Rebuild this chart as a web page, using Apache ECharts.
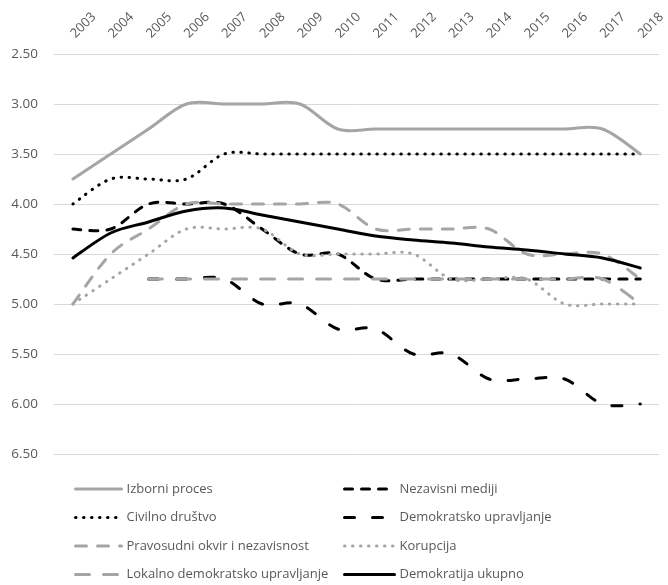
<!DOCTYPE html>
<html>
<head>
<meta charset="utf-8">
<script src="https://cdn.jsdelivr.net/npm/echarts@6/dist/echarts.min.js"></script>
<style>
  html, body { margin: 0; padding: 0; background: #fff; }
  #chart { width: 668px; height: 585px; }
</style>
</head>
<body>
<div id="chart"></div>
<script>
const years = ['2003', '2004', '2005', '2006', '2007', '2008', '2009', '2010',
  '2011', '2012', '2013', '2014', '2015', '2016', '2017', '2018']

const izborniProces = [3.75, 3.5, 3.25, 3.0, 3.0, 3.0, 3.0, 3.25, 3.25, 3.25, 3.25, 3.25, 3.25, 3.25, 3.25, 3.5]
const nezavisniMediji = [4.25, 4.25, 4.0, 4.0, 4.0, 4.25, 4.5, 4.5, 4.75, 4.75, 4.75, 4.75, 4.75, 4.75, 4.75, 4.75]
const civilnoDrustvo = [4.0, 3.75, 3.75, 3.75, 3.5, 3.5, 3.5, 3.5, 3.5, 3.5, 3.5, 3.5, 3.5, 3.5, 3.5, 3.5]
const demokratskoUpravljanje = [null, null, 4.75, 4.75, 4.75, 5.0, 5.0, 5.25, 5.25, 5.5, 5.5, 5.75, 5.75, 5.75, 6.0, 6.0]
const pravosudniOkvir = [5.0, 4.5, 4.25, 4.0, 4.0, 4.0, 4.0, 4.0, 4.25, 4.25, 4.25, 4.25, 4.5, 4.5, 4.5, 4.75]
const korupcija = [5.0, 4.75, 4.5, 4.25, 4.25, 4.25, 4.5, 4.5, 4.5, 4.5, 4.75, 4.75, 4.75, 5.0, 5.0, 5.0]
const lokalnoUpravljanje = [null, null, 4.75, 4.75, 4.75, 4.75, 4.75, 4.75, 4.75, 4.75, 4.75, 4.75, 4.75, 4.75, 4.75, 5.0]
const demokratijaUkupno = [4.54, 4.29, 4.18, 4.07, 4.04, 4.11, 4.18, 4.25, 4.32, 4.36, 4.39, 4.43, 4.46, 4.50, 4.54, 4.64]

const GREY = '#A5A5A5'
const BLACK = '#000000'
const FONT = 'Open Sans'

const lines = [
  { name: 'Izborni proces', values: izborniProces, color: GREY, dash: 'solid' },
  { name: 'Nezavisni mediji', values: nezavisniMediji, color: BLACK, dash: [8, 9] },
  { name: 'Civilno društvo', values: civilnoDrustvo, color: BLACK, dash: [0.5, 7.5] },
  { name: 'Demokratsko upravljanje', values: demokratskoUpravljanje, color: BLACK, dash: [10, 18] },
  { name: 'Pravosudni okvir i nezavisnost', values: pravosudniOkvir, color: GREY, dash: [11, 11] },
  { name: 'Korupcija', values: korupcija, color: GREY, dash: [0.5, 7.5] },
  { name: 'Lokalno demokratsko upravljanje', values: lokalnoUpravljanje, color: GREY, dash: [14, 14] },
  { name: 'Demokratija ukupno', values: demokratijaUkupno, color: BLACK, dash: 'solid' }
]

// empty line series: only give the legend its line icons
function legendSeries(s) {
  return {
    name: s.name,
    type: 'line',
    data: [],
    symbol: 'none',
    lineStyle: { color: s.color, width: 3, type: s.dash, cap: 'round' },
    itemStyle: { color: s.color }
  }
}

// Excel-like smoothed line (Catmull-Rom) drawn through the axes with api.coord
function curveSeries(s) {
  const pts = []
  s.values.forEach((v, i) => { if (v != null) pts.push([i, v]) })
  return {
    name: s.name,
    type: 'custom',
    data: pts,
    encode: { x: 0, y: 1 },
    silent: true,
    renderItem: (params, api) => {
      if (params.dataIndex !== 0) return
      const p = pts.map(d => api.coord(d))
      let d = 'M' + p[0][0] + ' ' + p[0][1]
      for (let k = 0; k < p.length - 1; k++) {
        const p0 = p[k - 1] || p[k]
        const p1 = p[k]
        const p2 = p[k + 1]
        const p3 = p[k + 2] || p[k + 1]
        const c1x = p1[0] + (p2[0] - p0[0]) / 6
        const c1y = p1[1] + (p2[1] - p0[1]) / 6
        const c2x = p2[0] - (p3[0] - p1[0]) / 6
        const c2y = p2[1] - (p3[1] - p1[1]) / 6
        d += ' C' + c1x + ' ' + c1y + ' ' + c2x + ' ' + c2y + ' ' + p2[0] + ' ' + p2[1]
      }
      return {
        type: 'path',
        shape: { pathData: d },
        style: {
          fill: 'none',
          stroke: s.color,
          lineWidth: 3,
          lineDash: s.dash === 'solid' ? null : s.dash,
          lineCap: 'round',
          lineJoin: 'round'
        }
      }
    }
  }
}

const legendCommon = {
  orient: 'vertical',
  top: 482,
  padding: 0,
  itemHeight: 14,
  itemGap: 14.5,
  lineStyle: { width: 3 },
  itemStyle: { opacity: 0, borderWidth: 0 },
  textStyle: { color: '#595959', fontFamily: FONT, fontSize: 13, lineHeight: 14 }
}

const chart = echarts.init(document.getElementById('chart'))
chart.setOption({
  animation: false,
  grid: {
    left: 54,
    right: 8,
    top: 54,
    bottom: 131
  },
  xAxis: {
    type: 'category',
    position: 'top',
    data: years,
    boundaryGap: true,
    axisLine: { show: false },
    axisTick: { show: false },
    axisLabel: {
      interval: 0,
      rotate: -45,
      margin: 18,
      color: '#595959',
      fontFamily: FONT,
      fontSize: 13
    }
  },
  yAxis: {
    type: 'value',
    inverse: true,
    min: 2.5,
    max: 6.5,
    interval: 0.5,
    axisLine: { show: false },
    axisTick: { show: false },
    axisLabel: {
      margin: 16,
      color: '#595959',
      fontFamily: FONT,
      fontSize: 13.5,
      formatter: v => v.toFixed(2)
    },
    splitLine: { lineStyle: { color: '#D9D9D9', width: 1 } }
  },
  legend: [Object.assign({}, legendCommon, {
    left: 74,
    itemWidth: 46,
    data: ['Izborni proces', 'Civilno društvo', 'Pravosudni okvir i nezavisnost', 'Lokalno demokratsko upravljanje']
  }), Object.assign({}, legendCommon, {
    left: 343,
    itemWidth: 50,
    data: ['Nezavisni mediji', 'Demokratsko upravljanje', 'Korupcija', 'Demokratija ukupno']
  })],
  series: lines.map(legendSeries).concat(lines.map(curveSeries))
})
</script>
</body>
</html>
